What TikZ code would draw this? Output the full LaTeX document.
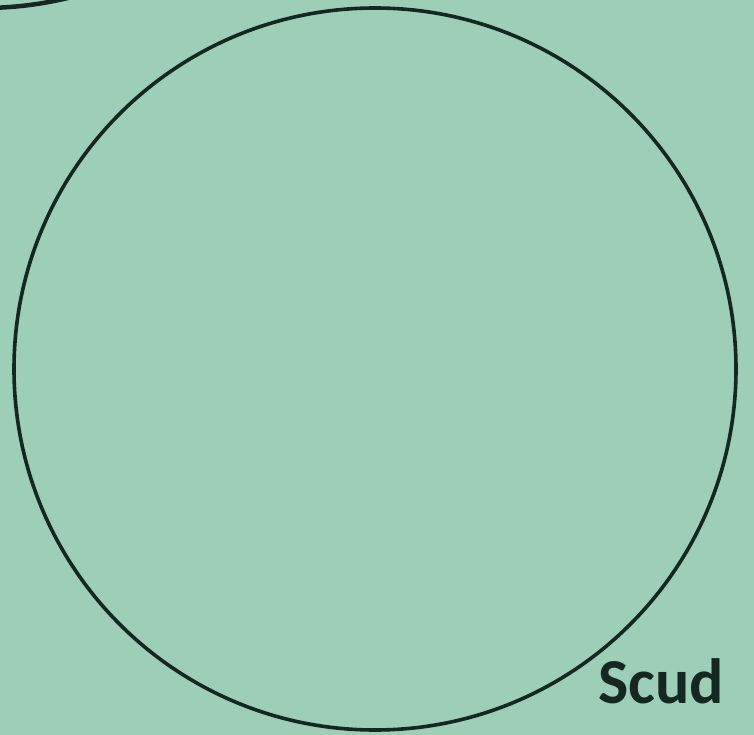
\documentclass[tikz,border=0pt]{standalone}
\usepackage{fontspec}
\setmainfont{Carlito}
\definecolor{bg}{RGB}{156,206,184}
\definecolor{ink}{RGB}{22,38,32}
\begin{document}
\begin{tikzpicture}[x=1pt,y=-1pt,
  ring/.style={draw=ink,line width=3.6pt},
  lbl/.style={font=\bfseries\fontsize{64}{64}\selectfont,text=ink,inner sep=0pt,anchor=base west}]
\fill[bg] (0,0) rectangle (754,735);
\useasboundingbox (0,0) rectangle (754,735);
\begin{scope}
\clip (0,0) rectangle (754,735);
\draw[ring,line width=4.5pt] (-17,-352) circle[radius=360];
\end{scope}
\node[ring,circle,minimum size=722pt,inner sep=0pt] (big) at (375,369) {};
\node[lbl] (scud) at (598,703) {Scud};
\end{tikzpicture}
\end{document}
